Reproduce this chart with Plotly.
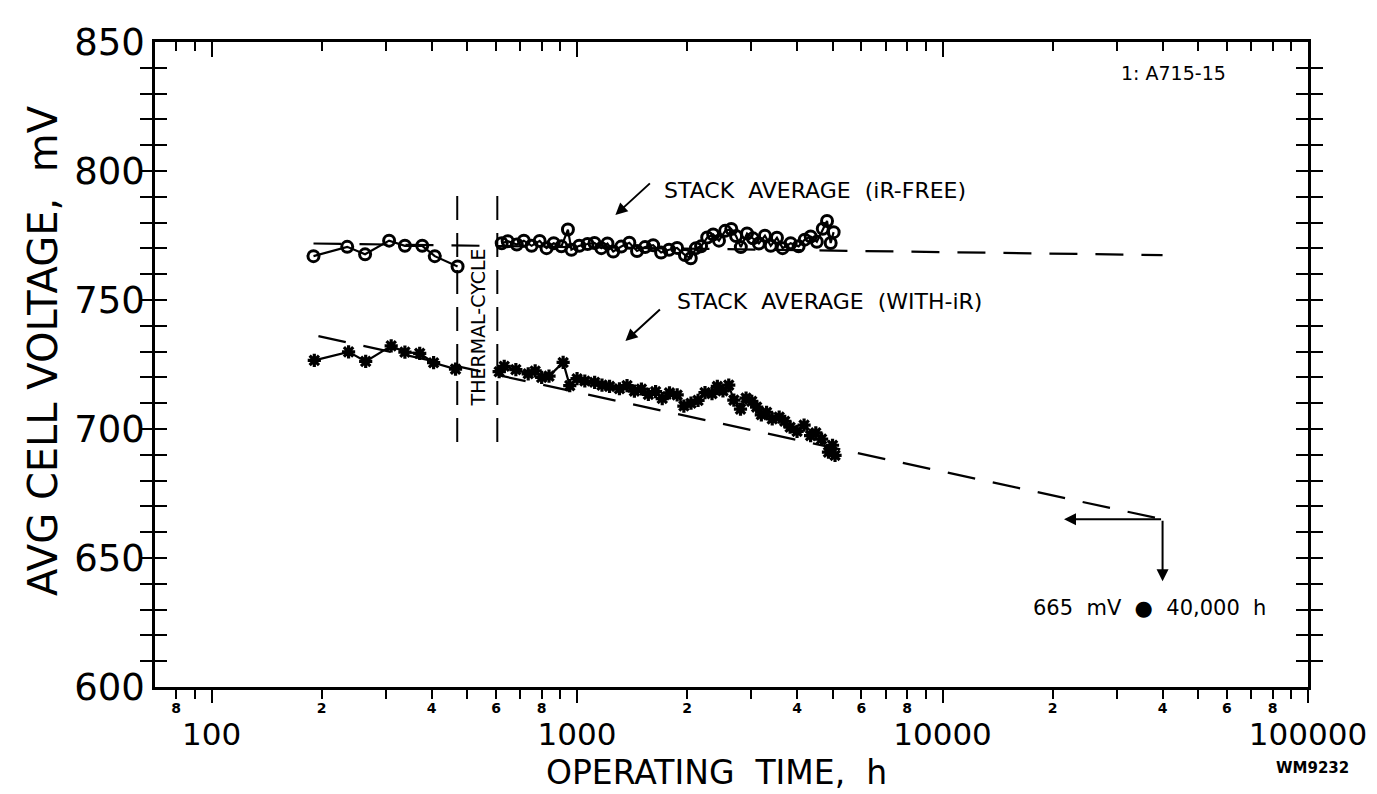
import math
import plotly.graph_objects as go

# ---------------- data ----------------
ir_free_pre_hours = [190, 235, 263, 306, 338, 377, 408, 471]
ir_free_pre_mv = [767.0, 770.6, 767.7, 773.0, 771.0, 771.0, 767.0, 763.0]

ir_free_post_hours = [622, 646, 684, 715, 751, 790, 825, 863, 906, 944, 965, 1014, 1068,
                      1116, 1165, 1211, 1256, 1321, 1390, 1459, 1535, 1615, 1698, 1785,
                      1878, 1973, 2047, 2115, 2184, 2270, 2357, 2445, 2542, 2642, 2723,
                      2806, 2918, 3028, 3143, 3266, 3388, 3523, 3651, 3840, 4039, 4197,
                      4357, 4529, 4702, 4830, 4942, 5035]
ir_free_post_mv = [772.0, 772.8, 771.5, 773.0, 771.0, 772.9, 770.1, 772.0, 770.8, 777.3,
                   769.5, 771.0, 771.7, 772.1, 770.1, 771.9, 768.8, 770.7, 772.2, 769.0,
                   770.5, 771.2, 768.4, 769.5, 770.2, 767.4, 766.2, 770.1, 770.8, 774.2,
                   775.4, 773.0, 776.8, 777.5, 774.8, 770.5, 775.8, 773.9, 771.9, 774.9,
                   771.0, 774.1, 770.1, 772.0, 770.8, 773.4, 774.6, 772.6, 777.6, 780.6,
                   772.1, 776.3]

with_ir_pre_hours = [191, 237, 264, 310, 338, 371, 405, 465]
with_ir_pre_mv = [726.6, 729.9, 726.2, 732.2, 729.8, 729.3, 725.7, 723.2]

with_ir_post_hours = [612, 632, 680, 735, 768, 800, 838, 916, 955, 1000, 1050, 1117, 1170,
                      1227, 1306, 1370, 1435, 1500, 1567, 1640, 1710, 1790, 1879, 1960,
                      2050, 2143, 2239, 2340, 2420, 2507, 2600, 2685, 2800, 2900, 3006,
                      3100, 3193, 3300, 3420, 3573, 3700, 3828, 3999, 4180, 4355, 4500,
                      4667, 4874, 5000, 5080]
with_ir_post_mv = [722.2, 724.3, 723.0, 721.4, 722.5, 720.0, 720.5, 725.8, 716.8, 719.5,
                   718.6, 718.1, 717.0, 716.5, 715.6, 716.8, 714.7, 715.5, 713.4, 714.5,
                   711.8, 714.0, 713.2, 708.9, 710.0, 711.1, 714.1, 713.7, 716.5, 714.8,
                   717.0, 711.2, 707.7, 712.0, 710.7, 708.5, 705.5, 706.5, 703.9, 704.6,
                   703.0, 700.7, 699.1, 701.5, 697.4, 698.5, 696.1, 691.0, 693.7, 689.8]

ir_free_fit_hours = [190, 40000]
ir_free_fit_mv = [771.9, 767.4]
with_ir_fit_hours = [196, 40000]
with_ir_fit_mv = [736.0, 665.0]

thermal_cycle_hours = [470, 605]
thermal_cycle_mv_span = [695, 791]

projection_hours = 40000
projection_mv = 665
projection_arrow_left_hours = 21500
projection_arrow_down_mv = 641

minor_tick_hours = [80, 90,
                    200, 300, 400, 500, 600, 700, 800, 900,
                    2000, 3000, 4000, 5000, 6000, 7000, 8000, 9000,
                    20000, 30000, 40000, 50000, 60000, 70000, 80000, 90000]
minor_tick_text = ["8", "",
                   "2", "", "4", "", "6", "", "8", "",
                   "2", "", "4", "", "6", "", "8", "",
                   "2", "", "4", "", "6", "", "8", ""]
decade_tick_hours = [100, 1000, 10000, 100000]
decade_tick_text = ["100", "1000", "10000", "100000"]

voltage_ticks = list(range(600, 851, 10))
voltage_tick_text = [str(v) if v % 50 == 0 else "" for v in voltage_ticks]

# ---------------- figure ----------------
FONT = "DejaVu Sans"
NB = "\u00a0"
fig = go.Figure()

circle_marker = dict(symbol="circle-open", size=11, color="black", line=dict(width=3, color="black"))
star_marker = dict(symbol="asterisk-open", size=11, color="black", line=dict(width=3.2, color="black"))
conn = dict(color="black", width=2.2)

for xs, ys, mk in [(ir_free_pre_hours, ir_free_pre_mv, circle_marker),
                   (ir_free_post_hours, ir_free_post_mv, circle_marker),
                   (with_ir_pre_hours, with_ir_pre_mv, star_marker),
                   (with_ir_post_hours, with_ir_post_mv, star_marker)]:
    fig.add_trace(go.Scatter(x=xs, y=ys, mode="lines+markers", line=conn, marker=mk,
                             showlegend=False, hoverinfo="skip"))

fit_line = dict(color="black", width=2.2, dash="28px,18px")
fig.add_trace(go.Scatter(x=ir_free_fit_hours, y=ir_free_fit_mv, mode="lines", line=fit_line,
                         xaxis="x2", showlegend=False, hoverinfo="skip"))
fig.add_trace(go.Scatter(x=with_ir_fit_hours, y=with_ir_fit_mv, mode="lines", line=fit_line,
                         xaxis="x3", showlegend=False, hoverinfo="skip"))

for t in thermal_cycle_hours:
    fig.add_trace(go.Scatter(x=[t, t], y=thermal_cycle_mv_span, mode="lines",
                             line=dict(color="black", width=2, dash="24px,13px"),
                             showlegend=False, hoverinfo="skip"))

xr = [math.log10(70), 5]
fig.update_layout(
    template="none",
    width=1377, height=794,
    margin=dict(l=147, r=77, t=34, b=115, autoexpand=False),
    paper_bgcolor="white", plot_bgcolor="white", showlegend=False,
    font=dict(family=FONT, color="black"),
    xaxis=dict(type="log", range=xr, tickmode="array", tickvals=minor_tick_hours,
               ticktext=minor_tick_text, ticks="outside", ticklen=9, tickwidth=2,
               tickcolor="black", showline=True, linewidth=2.5, linecolor="black",
               mirror=True, showgrid=False, zeroline=False, automargin=False,
               tickfont=dict(family=FONT, size=14, weight="bold"), ticklabelstandoff=-3),
    xaxis2=dict(type="log", range=xr, overlaying="x", side="bottom", tickmode="array",
                tickvals=decade_tick_hours, ticktext=decade_tick_text, ticks="outside",
                ticklen=15, tickwidth=2, tickcolor="black", showline=False, showgrid=False,
                zeroline=False, automargin=False,
                tickfont=dict(family=FONT, size=31), ticklabelstandoff=5),
    xaxis3=dict(type="log", range=xr, overlaying="x", side="top", tickmode="array",
                tickvals=decade_tick_hours, ticks="inside", ticklen=15, tickwidth=2,
                tickcolor="black", showticklabels=False, showline=False, showgrid=False,
                zeroline=False, automargin=False,
                minor=dict(tickmode="array", tickvals=minor_tick_hours, ticks="inside",
                           ticklen=9, tickwidth=2, tickcolor="black", showgrid=False)),
    yaxis=dict(range=[600, 850], tickmode="array", tickvals=voltage_ticks,
               ticktext=voltage_tick_text, ticks="inside", ticklen=12, tickwidth=2,
               tickcolor="black", showline=True, linewidth=2.5, linecolor="black",
               mirror="allticks", showgrid=False, zeroline=False, automargin=False,
               tickfont=dict(family=FONT, size=37)),
)

ann = []
ann.append(dict(text="AVG CELL VOLTAGE,  mV", textangle=-90, xref="paper", yref="paper",
                x=-0.0971, y=0.521, xanchor="center", yanchor="middle", showarrow=False,
                font=dict(family=FONT, size=40)))
ann.append(dict(text="OPERATING" + NB + NB + "TIME," + NB + NB + "h", xref="paper", yref="paper",
                x=0.4866, y=-0.132, xanchor="center", yanchor="middle", showarrow=False,
                font=dict(family=FONT, size=33)))
ann.append(dict(text="1:" + NB + "A715-15", xref="paper", yref="paper", x=0.883, y=0.952,
                xanchor="center", yanchor="middle", showarrow=False,
                font=dict(family=FONT, size=19)))
ann.append(dict(text=("STACK" + NB + NB + "AVERAGE" + NB + NB + "(iR-FREE)"), xref="paper",
                yref="paper", x=0.440, y=0.770, xanchor="left", yanchor="middle",
                showarrow=False, font=dict(family=FONT, size=22)))
ann.append(dict(text=("STACK" + NB + NB + "AVERAGE" + NB + NB + "(WITH-iR)"), xref="paper",
                yref="paper", x=0.451, y=0.598, xanchor="left", yanchor="middle",
                showarrow=False, font=dict(family=FONT, size=22)))
for tipx, tipy in [(0.3993, 0.7318), (0.4080, 0.5364)]:
    ann.append(dict(text="", xref="paper", yref="paper", x=tipx, y=tipy, ax=36, ay=-33,
                    showarrow=True, arrowhead=2, arrowsize=1.2, arrowwidth=2, arrowcolor="black"))
ann.append(dict(text="THERMAL-CYCLE", textangle=-90, xref="paper", yref="paper", x=0.2804,
                y=0.558, xanchor="center", yanchor="middle", showarrow=False,
                font=dict(family=FONT, size=19)))
ann.append(dict(text=("665" + NB + NB + "mV" + NB + NB + "\u25cf" + NB + NB + "40,000" + NB + NB + "h"),
                xref="paper", yref="paper", x=0.7595, y=0.122, xanchor="left", yanchor="middle",
                showarrow=False, font=dict(family=FONT, size=21)))
ann.append(dict(text="<b>WM9232</b>", xref="paper", yref="paper", x=1.004, y=-0.126,
                xanchor="center", yanchor="middle", showarrow=False,
                font=dict(family=FONT, size=15)))
# projection arrows at 40,000 h / 665 mV
ann.append(dict(text="", xref="x", yref="y", x=math.log10(projection_arrow_left_hours),
                y=projection_mv, axref="x", ayref="y", ax=math.log10(projection_hours),
                ay=projection_mv, showarrow=True, arrowhead=2, arrowsize=1.2, arrowwidth=2,
                arrowcolor="black"))
ann.append(dict(text="", xref="x", yref="y", x=math.log10(projection_hours),
                y=projection_arrow_down_mv, axref="x", ayref="y",
                ax=math.log10(projection_hours), ay=projection_mv, showarrow=True,
                arrowhead=2, arrowsize=1.2, arrowwidth=2, arrowcolor="black"))
fig.update_layout(annotations=ann)

fig.write_html("out.html")
